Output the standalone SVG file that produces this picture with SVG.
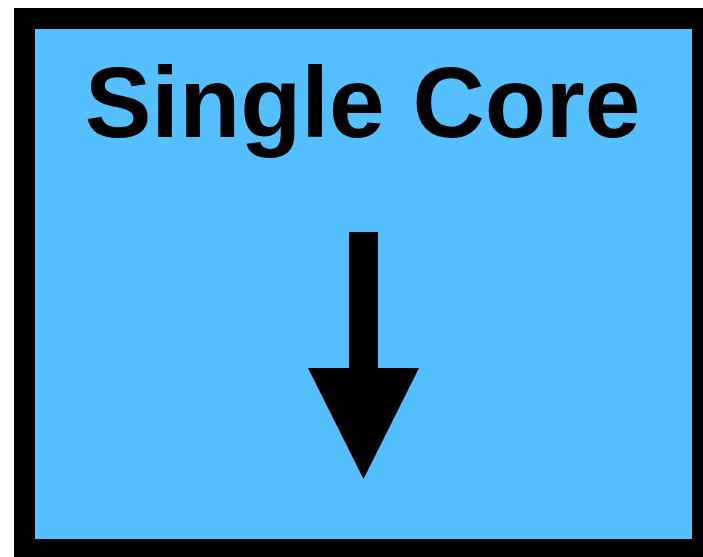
<svg xmlns="http://www.w3.org/2000/svg" width="703" height="557" viewBox="0 0 703 557">
<style>
.box{fill:#55BFFF;stroke:#000;stroke-width:21}
.title{font-family:"Liberation Sans",Arial,sans-serif;font-weight:bold;font-size:100px;fill:#000;text-anchor:middle}
</style>
<rect width="703" height="557" fill="#fff"/>
<g id="single-core">
<rect class="box" x="24.5" y="18.5" width="678" height="531"/>
<text class="title" x="362.5" y="137">Single Core</text>
</g>
<g id="connectors">
<polygon points="349,232 378,232 378,368 419,368 363.5,479 308,368 349,368" fill="#000"/>
</g>
</svg>
